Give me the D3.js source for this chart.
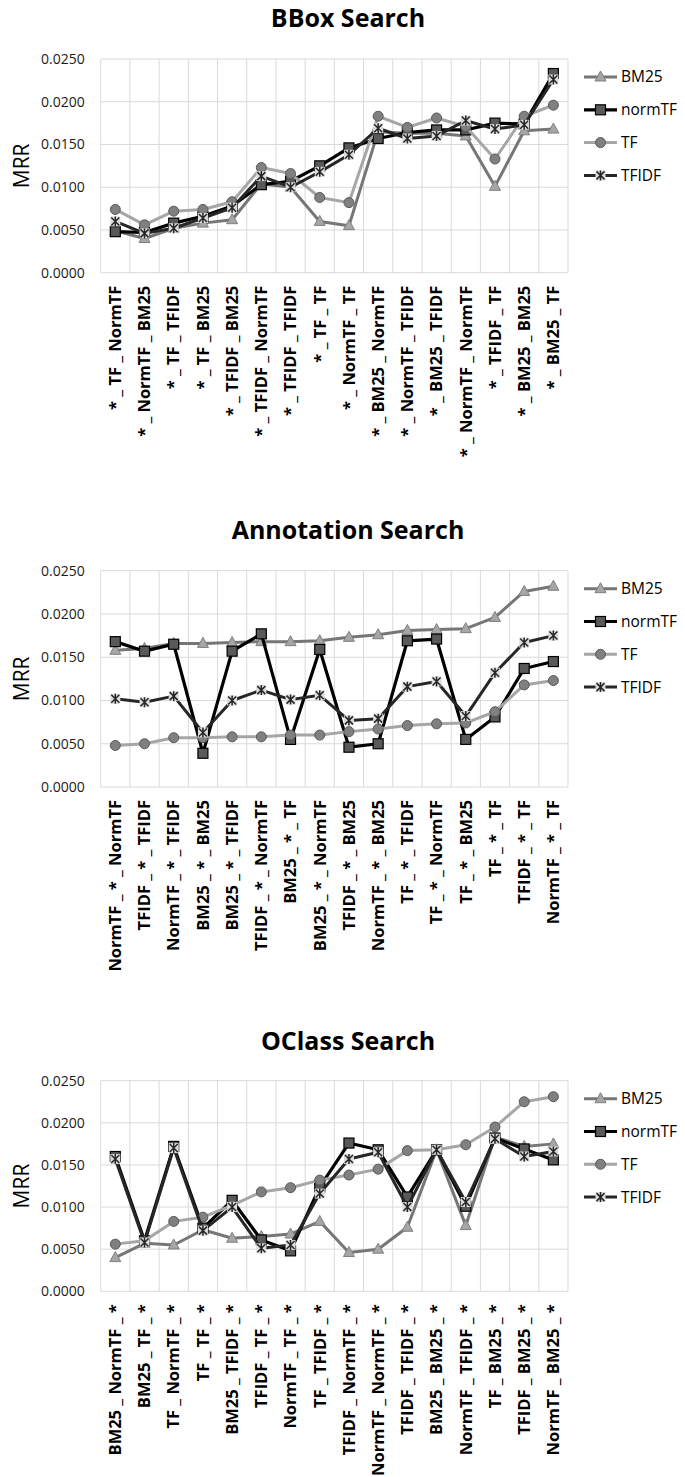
<!DOCTYPE html>
<html>
<head>
  <meta charset="utf-8">
  <title>MRR charts</title>
  <script src="https://d3js.org/d3.v7.min.js"></script>
  <style>
    body { margin: 0; background: #fff; }
    svg { display: block; font-family: 'Open Sans', sans-serif; }
    .grid line { stroke: #d9d9d9; stroke-width: 1; }
  </style>
</head>
<body>
<svg width="685" height="1477"></svg>
<script>
  const seriesNames = ['BM25', 'normTF', 'TF', 'TFIDF'];
  const yTicks = [0, 0.005, 0.010, 0.015, 0.020, 0.025];

  // BBox Search
  const bboxCategories = ['* _ TF _ NormTF', '* _ NormTF _ BM25', '* _ TF _ TFIDF', '* _ TF _ BM25',
    '* _ TFIDF _ BM25', '* _ TFIDF _ NormTF', '* _ TFIDF _ TFIDF', '* _ TF _ TF',
    '* _ NormTF _ TF', '* _ BM25 _ NormTF', '* _ NormTF _ TFIDF', '* _ BM25 _ TFIDF',
    '* _ NormTF _ NormTF', '* _ TFIDF _ TF', '* _ BM25 _ BM25', '* _ BM25 _ TF'];
  const bboxBM25   = [0.0049, 0.0040, 0.0052, 0.0058, 0.0062, 0.0104, 0.0100, 0.0060, 0.0055, 0.0165, 0.0163, 0.0163, 0.0160, 0.0101, 0.0166, 0.0168];
  const bboxNormTF = [0.0048, 0.0047, 0.0058, 0.0066, 0.0078, 0.0103, 0.0107, 0.0125, 0.0146, 0.0157, 0.0164, 0.0167, 0.0167, 0.0175, 0.0174, 0.0233];
  const bboxTF     = [0.0074, 0.0056, 0.0072, 0.0074, 0.0083, 0.0123, 0.0116, 0.0088, 0.0082, 0.0183, 0.0170, 0.0181, 0.0171, 0.0133, 0.0183, 0.0196];
  const bboxTFIDF  = [0.0060, 0.0046, 0.0052, 0.0064, 0.0076, 0.0113, 0.0100, 0.0118, 0.0138, 0.0169, 0.0157, 0.0160, 0.0178, 0.0168, 0.0173, 0.0226];

  // Annotation Search
  const annoCategories = ['NormTF _ * _ NormTF', 'TFIDF _ * _ TFIDF', 'NormTF _ * _ TFIDF', 'BM25 _ * _ BM25',
    'BM25 _ * _ TFIDF', 'TFIDF _ * _ NormTF', 'BM25 _ * _ TF', 'BM25 _ * _ NormTF',
    'TFIDF _ * _ BM25', 'NormTF _ * _ BM25', 'TF _ * _ TFIDF', 'TF _ * _ NormTF',
    'TF _ * _ BM25', 'TF _ * _ TF', 'TFIDF _ * _ TF', 'NormTF _ * _ TF'];
  const annoBM25   = [0.0158, 0.0160, 0.0166, 0.0166, 0.0167, 0.0168, 0.0168, 0.0169, 0.0173, 0.0176, 0.0181, 0.0182, 0.0183, 0.0196, 0.0226, 0.0232];
  const annoNormTF = [0.0168, 0.0157, 0.0165, 0.0039, 0.0157, 0.0177, 0.0055, 0.0159, 0.0046, 0.0050, 0.0169, 0.0171, 0.0055, 0.0081, 0.0137, 0.0145];
  const annoTF     = [0.0048, 0.0050, 0.0057, 0.0057, 0.0058, 0.0058, 0.0060, 0.0060, 0.0064, 0.0067, 0.0071, 0.0073, 0.0074, 0.0087, 0.0118, 0.0123];
  const annoTFIDF  = [0.0102, 0.0098, 0.0105, 0.0063, 0.0100, 0.0112, 0.0101, 0.0106, 0.0077, 0.0079, 0.0116, 0.0122, 0.0082, 0.0132, 0.0167, 0.0175];

  // OClass Search
  const oclassCategories = ['BM25 _ NormTF _ *', 'BM25 _ TF _ *', 'TF _ NormTF _ *', 'TF _ TF _ *',
    'BM25 _ TFIDF _ *', 'TFIDF _ TF _ *', 'NormTF _ TF _ *', 'TF _ TFIDF _ *',
    'TFIDF _ NormTF _ *', 'NormTF _ NormTF _ *', 'TFIDF _ TFIDF _ *', 'BM25 _ BM25 _ *',
    'NormTF _ TFIDF _ *', 'TF _ BM25 _ *', 'TFIDF _ BM25 _ *', 'NormTF _ BM25 _ *'];
  const oclassBM25   = [0.0040, 0.0057, 0.0055, 0.0073, 0.0063, 0.0065, 0.0068, 0.0083, 0.0046, 0.0050, 0.0076, 0.0168, 0.0078, 0.0183, 0.0172, 0.0175];
  const oclassNormTF = [0.0160, 0.0060, 0.0172, 0.0075, 0.0108, 0.0061, 0.0048, 0.0124, 0.0176, 0.0168, 0.0112, 0.0168, 0.0101, 0.0182, 0.0169, 0.0156];
  const oclassTF     = [0.0056, 0.0060, 0.0083, 0.0088, 0.0102, 0.0118, 0.0123, 0.0132, 0.0138, 0.0145, 0.0167, 0.0168, 0.0174, 0.0195, 0.0225, 0.0231];
  const oclassTFIDF  = [0.0157, 0.0058, 0.0170, 0.0072, 0.0100, 0.0051, 0.0055, 0.0116, 0.0157, 0.0165, 0.0100, 0.0168, 0.0106, 0.0181, 0.0160, 0.0166];

  const styles = {
    BM25:   { line: '#767676', width: 3, marker: 'triangle', fill: '#a6a6a6', stroke: '#7f7f7f' },
    normTF: { line: '#000000', width: 3.2, marker: 'square', fill: '#595959', stroke: '#000000' },
    TF:     { line: '#a6a6a6', width: 3, marker: 'circle', fill: '#808080', stroke: '#595959' },
    TFIDF:  { line: '#262626', width: 3, marker: 'star', fill: '#dcdcdc', stroke: '#262626' }
  };

  const svg = d3.select('svg');
  const left = 100.7, right = 568;

  function drawMarker(g, type, st) {
    if (type === 'triangle') {
      g.append('path').attr('d', 'M0,-6 L5.5,4 L-5.5,4 Z')
        .attr('fill', st.fill).attr('stroke', st.stroke).attr('stroke-width', 1);
    } else if (type === 'square') {
      g.append('rect').attr('x', -5).attr('y', -5).attr('width', 10).attr('height', 10)
        .attr('fill', st.fill).attr('stroke', st.stroke).attr('stroke-width', 1.2);
    } else if (type === 'circle') {
      g.append('circle').attr('r', 5)
        .attr('fill', st.fill).attr('stroke', st.stroke).attr('stroke-width', 1);
    } else {
      g.append('rect').attr('x', -5).attr('y', -5).attr('width', 10).attr('height', 10)
        .attr('fill', st.fill);
      g.append('path').attr('d', 'M-4,-4 L4,4 M-4,4 L4,-4 M0,-5 L0,5')
        .attr('stroke', st.stroke).attr('stroke-width', 1.5).attr('fill', 'none');
    }
  }

  function drawChart(cfg) {
    const x = d3.scaleBand().domain(cfg.categories).range([left, right]).paddingInner(0).paddingOuter(0);
    const y = d3.scaleLinear().domain([0, 0.025]).range([cfg.bottom, cfg.top]);
    const cx = d => x(d) + x.bandwidth() / 2;
    const g = svg.append('g');

    g.append('text')
      .attr('x', 348).attr('y', cfg.titleY).attr('dy', '0.35em')
      .attr('text-anchor', 'middle')
      .style('font-size', '25px').style('font-weight', 'bold').style('fill', '#000')
      .text(cfg.title);

    // grid
    const grid = g.append('g').attr('class', 'grid');
    grid.selectAll('line.h').data(yTicks).enter().append('line')
      .attr('x1', left).attr('x2', right)
      .attr('y1', d => y(d)).attr('y2', d => y(d));
    const bounds = cfg.categories.map(c => x(c)).concat([right]);
    grid.selectAll('line.v').data(bounds).enter().append('line')
      .attr('x1', d => d).attr('x2', d => d)
      .attr('y1', cfg.top).attr('y2', cfg.bottom);

    // y axis
    const yAxis = g.append('g').attr('transform', `translate(${left},0)`)
      .call(d3.axisLeft(y).tickValues(yTicks).tickFormat(d3.format('.4f')).tickSize(0).tickPadding(16));
    yAxis.select('.domain').remove();
    yAxis.selectAll('text').style('font-size', '14px').style('fill', '#1a1a1a').style('font-family', "'Open Sans', sans-serif");

    g.append('text')
      .attr('transform', `translate(22,${(cfg.top + cfg.bottom) / 2}) rotate(-90)`)
      .attr('text-anchor', 'middle').attr('dy', '0.35em')
      .style('font-size', '21px').style('fill', '#000')
      .text('MRR');

    // x axis
    const xAxis = g.append('g').attr('transform', `translate(0,${cfg.bottom})`)
      .call(d3.axisBottom(x).tickSize(0));
    xAxis.select('.domain').remove();
    xAxis.selectAll('text')
      .attr('transform', 'rotate(-90)')
      .attr('x', -13).attr('y', 0).attr('dy', '0.35em')
      .style('text-anchor', 'end')
      .style('font-size', '16.5px').style('font-weight', 'bold').style('fill', '#000')
      .style('font-family', "'Open Sans', sans-serif");

    // series
    seriesNames.forEach((name, i) => {
      const st = styles[name];
      const vals = cfg.series[i];
      const line = d3.line().x((d, j) => cx(cfg.categories[j])).y(d => y(d));
      g.append('path').datum(vals)
        .attr('d', line).attr('fill', 'none')
        .attr('stroke', st.line).attr('stroke-width', st.width).attr('stroke-linejoin', 'round');
      vals.forEach((v, j) => {
        const m = g.append('g').attr('transform', `translate(${cx(cfg.categories[j])},${y(v)})`);
        drawMarker(m, st.marker, st);
      });
    });

    // legend
    seriesNames.forEach((name, i) => {
      const st = styles[name];
      const ly = cfg.top + 18 + i * 32.8;
      const lg = g.append('g').attr('transform', `translate(0,${ly})`);
      lg.append('line').attr('x1', 584).attr('x2', 617).attr('y1', 0).attr('y2', 0)
        .attr('stroke', st.line).attr('stroke-width', st.width);
      const m = lg.append('g').attr('transform', 'translate(600.5,0)');
      drawMarker(m, st.marker, st);
      lg.append('text').attr('x', 621).attr('y', 0).attr('dy', '0.35em')
        .style('font-size', '15.5px').style('fill', '#000')
        .text(name);
    });
  }

  drawChart({ title: 'BBox Search', titleY: 18, top: 59, bottom: 272.7,
    categories: bboxCategories, series: [bboxBM25, bboxNormTF, bboxTF, bboxTFIDF] });
  drawChart({ title: 'Annotation Search', titleY: 530, top: 570.7, bottom: 787,
    categories: annoCategories, series: [annoBM25, annoNormTF, annoTF, annoTFIDF] });
  drawChart({ title: 'OClass Search', titleY: 1041.7, top: 1080.7, bottom: 1291.3,
    categories: oclassCategories, series: [oclassBM25, oclassNormTF, oclassTF, oclassTFIDF] });
</script>
</body>
</html>
